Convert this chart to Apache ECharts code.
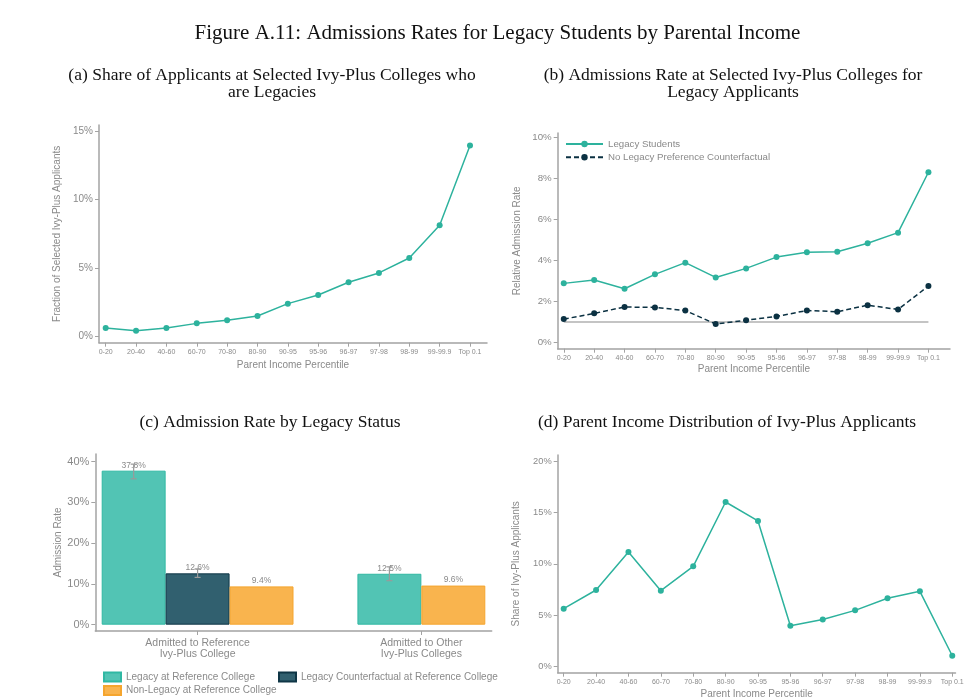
<!DOCTYPE html>
<html>
<head>
<meta charset="utf-8">
<script src="https://cdn.jsdelivr.net/npm/echarts@6/dist/echarts.min.js"></script>
<style>
html,body{margin:0;padding:0;background:#fff;}
#chart{width:979px;height:697px;}
</style>
</head>
<body>
<div id="chart"></div>
<script>
// ---------- DATA ----------
const incomeGroups = ['0-20','20-40','40-60','60-70','70-80','80-90','90-95','95-96','96-97','97-98','98-99','99-99.9','Top 0.1'];
// (a) share of applicants who are legacies (%)
const legacyShare = [0.63,0.44,0.63,0.97,1.19,1.51,2.41,3.04,3.97,4.65,5.74,8.13,13.94];
// (b) relative admission rates (%)
const legacyAdmitRate = [2.89,3.05,2.63,3.33,3.90,3.18,3.62,4.17,4.40,4.43,4.84,5.36,8.30];
const counterfactualAdmitRate = [1.15,1.43,1.74,1.72,1.57,0.91,1.10,1.28,1.57,1.51,1.83,1.62,2.76];
const referenceRate = 1;
// (c) admission rate by legacy status (%)
const barGroups = ['Admitted to Reference\nIvy-Plus College','Admitted to Other\nIvy-Plus Colleges'];
const barLegacy = [37.8, 12.5];
const barCounterfactual = [12.6, null];
const barNonLegacy = [9.4, 9.6];
const legacyErrLow = [35.8, 10.8];
const legacyErrHigh = [39.4, 14.2];
const cfErrLow = [11.6, null];
const cfErrHigh = [13.7, null];
// (d) parent income distribution of applicants (%)
const applicantShare = [5.64,7.46,11.15,7.39,9.76,16.01,14.17,3.99,4.60,5.48,6.65,7.33,1.07];
// tick labels
const ticksA = [0,5,10,15];
const ticksB = [0,2,4,6,8,10];
const ticksC = [0,10,20,30,40];
const ticksD = [0,5,10,15,20];
const seriesNames = ['Legacy Students','No Legacy Preference Counterfactual'];
const barNames = ['Legacy at Reference College','Legacy Counterfactual at Reference College','Non-Legacy at Reference College'];

// ---------- STYLE ----------
const TEAL = '#2DB29D';
const NAVY = '#0B3142';
const GRAY_TXT = '#8a8a8a';
const AXIS = '#a3a3a3';
const SANS = 'Liberation Sans, Arial, sans-serif';
const SERIF = 'Liberation Serif, Times New Roman, serif';
const BAR_FILL = ['#52C4B4','#31606F','#F9B44E'];
const BAR_BORDER = ['#30B8A3','#0F3646','#F5A52E'];

const pct = v => v + '%';
const idx = incomeGroups.map((_, i) => i);
const toPts = arr => arr.map((v, i) => [i, v]);

// bar slot layout for panel (c): bars in a group side by side, one empty slot between groups
const barSeriesVals = [barLegacy, barCounterfactual, barNonLegacy];
const slotX = barSeriesVals.map(() => []);
const groupCenters = [];
let slot = 0;
barGroups.forEach((g, gi) => {
  const xs = [];
  barSeriesVals.forEach((vals, si) => {
    if (vals[gi] != null) { slotX[si][gi] = slot + 0.5; xs.push(slot + 0.5); slot++; }
  });
  groupCenters.push(xs.reduce((a, b) => a + b, 0) / xs.length);
  slot++;
});
const totalSlots = slot - 1;

function xCatAxis(gridIndex, min, max, fs) {
  return {
    type: 'value', gridIndex, min, max,
    axisLine: { show: true, onZero: false, lineStyle: { color: AXIS, width: 1.5 } },
    axisTick: { show: true, length: 4, customValues: idx, lineStyle: { color: AXIS, width: 1 } },
    axisLabel: { customValues: idx, formatter: v => incomeGroups[Math.round(v)], color: GRAY_TXT, fontSize: fs, fontFamily: SANS, margin: 6, hideOverlap: false },
    splitLine: { show: false },
    name: 'Parent Income Percentile', nameLocation: 'middle',
    nameTextStyle: { color: GRAY_TXT, fontSize: 10, fontFamily: SANS }
  };
}
function yAxis(gridIndex, min, max, ticks, name, gap, fs) {
  return {
    type: 'value', gridIndex, min, max,
    axisLine: { show: true, onZero: false, lineStyle: { color: AXIS, width: 1.5 } },
    axisTick: { show: true, length: 4, customValues: ticks, lineStyle: { color: AXIS, width: 1 } },
    axisLabel: { customValues: ticks, formatter: pct, color: GRAY_TXT, fontSize: fs, fontFamily: SANS, margin: 6 },
    splitLine: { show: false },
    name, nameLocation: 'middle', nameGap: gap,
    nameTextStyle: { color: GRAY_TXT, fontSize: 10, fontFamily: SANS }
  };
}

const xa = xCatAxis(0, -0.22, 12.56, 7); xa.nameGap = 18;
const xb = xCatAxis(1, -0.2, 12.71, 7); xb.nameGap = 16;
const xd = xCatAxis(3, -0.185, 12.1, 7); xd.nameGap = 17;
const xc = {
  type: 'value', gridIndex: 2, min: -0.1, max: totalSlots + 0.1,
  axisLine: { show: true, onZero: false, lineStyle: { color: AXIS, width: 1.5 } },
  axisTick: { show: true, length: 4, customValues: groupCenters, lineStyle: { color: AXIS, width: 1 } },
  axisLabel: { customValues: groupCenters, formatter: v => barGroups[groupCenters.findIndex(c => Math.abs(c - v) < 1e-6)] || '',
    color: GRAY_TXT, fontSize: 10.5, lineHeight: 10.5, fontFamily: SANS, margin: 7 },
  splitLine: { show: false }
};

const errData = [];
barGroups.forEach((g, gi) => {
  if (legacyErrLow[gi] != null) errData.push([slotX[0][gi], legacyErrLow[gi], legacyErrHigh[gi]]);
  if (cfErrLow[gi] != null) errData.push([slotX[1][gi], cfErrLow[gi], cfErrHigh[gi]]);
});

const barSeries = barSeriesVals.map((vals, si) => ({
  type: 'bar', name: barNames[si], xAxisIndex: 2, yAxisIndex: 2,
  data: vals.map((v, gi) => v == null ? null : [slotX[si][gi], v]).filter(d => d),
  barWidth: '100%', barGap: '-100%',
  itemStyle: { color: BAR_FILL[si], borderColor: BAR_BORDER[si], borderWidth: 1 },
  label: { show: true, position: 'top', distance: 1, formatter: p => p.value[1].toFixed(1) + '%', color: GRAY_TXT, fontSize: 8.5, fontFamily: SANS },
  emphasis: { disabled: true }
}));

const titleBase = { padding: 0, textAlign: 'center' };
const subStyle = { fontFamily: SERIF, fontSize: 17.5, lineHeight: 17.5, fontWeight: 'normal', color: '#111' };
const option = {
  animation: false,
  backgroundColor: '#fff',
  title: [
    { ...titleBase, text: 'Figure A.11: Admissions Rates for Legacy Students by Parental Income', left: 497.5, top: 23,
      textStyle: { fontFamily: SERIF, fontSize: 21, fontWeight: 'normal', color: '#111' } },
    { ...titleBase, text: '(a) Share of Applicants at Selected Ivy-Plus Colleges who\nare Legacies', left: 272, top: 66.3, textStyle: subStyle },
    { ...titleBase, text: '(b) Admissions Rate at Selected Ivy-Plus Colleges for\nLegacy Applicants', left: 733, top: 66.3, textStyle: subStyle },
    { ...titleBase, text: '(c) Admission Rate by Legacy Status', left: 270, top: 413.5, textStyle: subStyle },
    { ...titleBase, text: '(d) Parent Income Distribution of Ivy-Plus Applicants', left: 727, top: 413.5, textStyle: subStyle }
  ],
  legend: [
    { orient: 'vertical', left: 565, top: 139, padding: 0, itemWidth: 37, itemHeight: 8, itemGap: 3.3, data: seriesNames,
      textStyle: { color: GRAY_TXT, fontSize: 9.7, fontFamily: SANS }, selectedMode: false },
    { left: 103, top: 671.5, padding: 0, itemWidth: 17, itemHeight: 9, icon: 'rect', data: [barNames[0]],
      textStyle: { color: GRAY_TXT, fontSize: 10, fontFamily: SANS }, selectedMode: false },
    { left: 278, top: 671.5, padding: 0, itemWidth: 17, itemHeight: 9, icon: 'rect', data: [barNames[1]],
      textStyle: { color: GRAY_TXT, fontSize: 10, fontFamily: SANS }, selectedMode: false },
    { left: 103, top: 685, padding: 0, itemWidth: 17, itemHeight: 9, icon: 'rect', data: [barNames[2]],
      textStyle: { color: GRAY_TXT, fontSize: 10, fontFamily: SANS }, selectedMode: false }
  ],
  grid: [
    { left: 99, top: 125, width: 388, height: 217.7, outerBoundsMode: 'none' },
    { left: 557.7, top: 133, width: 392.3, height: 215.7, outerBoundsMode: 'none' },
    { left: 95.3, top: 454, width: 396.4, height: 177, outerBoundsMode: 'none' },
    { left: 557.7, top: 455, width: 397.8, height: 217.7, outerBoundsMode: 'none' }
  ],
  xAxis: [xa, xb, xc, xd],
  yAxis: [
    yAxis(0, -0.44, 15.44, ticksA, 'Fraction of Selected Ivy-Plus Applicants', 37, 10),
    yAxis(1, -0.29, 10.21, ticksB, 'Relative Admission Rate', 35, 9.7),
    yAxis(2, -1.55, 41.89, ticksC, 'Admission Rate', 31, 11),
    yAxis(3, -0.58, 20.58, ticksD, 'Share of Ivy-Plus Applicants', 36, 9.3)
  ],
  series: [
    { type: 'line', name: 'legacyShare', xAxisIndex: 0, yAxisIndex: 0, data: toPts(legacyShare),
      symbol: 'circle', symbolSize: 6, lineStyle: { color: TEAL, width: 1.5 }, itemStyle: { color: TEAL }, emphasis: { disabled: true } },
    { type: 'line', name: seriesNames[0], xAxisIndex: 1, yAxisIndex: 1, data: toPts(legacyAdmitRate),
      symbol: 'circle', symbolSize: 6, lineStyle: { color: TEAL, width: 1.5 }, itemStyle: { color: TEAL }, emphasis: { disabled: true }, z: 3 },
    { type: 'line', name: seriesNames[1], xAxisIndex: 1, yAxisIndex: 1, data: toPts(counterfactualAdmitRate),
      symbol: 'circle', symbolSize: 6, lineStyle: { color: NAVY, width: 1.5, type: [5, 3] }, itemStyle: { color: NAVY }, emphasis: { disabled: true }, z: 3,
      markLine: { silent: true, symbol: 'none', label: { show: false }, z: 1,
        lineStyle: { color: '#b0b0b0', type: 'solid', width: 1.5 },
        data: [[{ coord: [0, referenceRate] }, { coord: [incomeGroups.length - 1, referenceRate] }]] } },
    ...barSeries,
    { type: 'custom', name: 'errorbars', xAxisIndex: 2, yAxisIndex: 2, data: errData, z: 10, silent: true,
      encode: { x: 0, y: [1, 2] },
      renderItem: (params, api) => {
        const x = api.value(0);
        const lo = api.coord([x, api.value(1)]);
        const hi = api.coord([x, api.value(2)]);
        const w = 3;
        const st = { stroke: '#9a9a9a', lineWidth: 1.2 };
        return { type: 'group', children: [
          { type: 'line', shape: { x1: lo[0], y1: lo[1], x2: hi[0], y2: hi[1] }, style: st },
          { type: 'line', shape: { x1: lo[0] - w, y1: lo[1], x2: lo[0] + w, y2: lo[1] }, style: st },
          { type: 'line', shape: { x1: hi[0] - w, y1: hi[1], x2: hi[0] + w, y2: hi[1] }, style: st }
        ] };
      } },
    { type: 'line', name: 'applicantShare', xAxisIndex: 3, yAxisIndex: 3, data: toPts(applicantShare),
      symbol: 'circle', symbolSize: 6, lineStyle: { color: TEAL, width: 1.5 }, itemStyle: { color: TEAL }, emphasis: { disabled: true } }
  ]
};
const chart = echarts.init(document.getElementById('chart'), null, { renderer: 'canvas' });
chart.setOption(option);
</script>
</body>
</html>
